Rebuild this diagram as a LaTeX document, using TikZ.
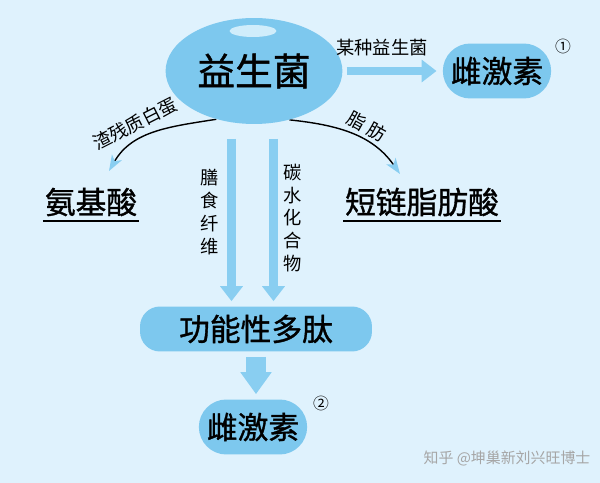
\documentclass[tikz,border=0pt]{standalone}
\usepackage{fontspec}
\setmainfont{Noto Sans CJK SC}
\newfontfamily\heavycjk[FakeBold=1.1]{Noto Sans CJK SC}
\usepackage{tikz}
\usetikzlibrary{positioning,backgrounds,arrows.meta,shapes.geometric,shapes.misc}
\pgfdeclarelayer{background}
\pgfsetlayers{background,main}
\usepackage{xcolor}
\definecolor{pagebg}{RGB}{223,242,253}
\definecolor{bubbleblue}{RGB}{125,200,238}
\definecolor{shaftblue}{RGB}{137,206,241}
\definecolor{glintwhite}{RGB}{208,237,251}
\newcommand{\bigcjk}{\heavycjk\fontsize{21.5}{21.5}\selectfont}
\newcommand{\midcjk}{\heavycjk\fontsize{17.5}{17.5}\selectfont}
\newcommand{\smallcjk}{\fontsize{10.4}{13}\selectfont}

\begin{document}
\begin{tikzpicture}[x=0.02cm, y=0.02cm,
  every node/.style={font=\smallcjk},
  bubble/.style={ellipse, fill=bubbleblue, minimum width=3.06cm,
    minimum height=2.12cm, font=\bigcjk},
  glint/.style={ellipse, fill=glintwhite, minimum width=0.94cm,
    minimum height=0.24cm, inner sep=0pt},
  pill/.style={rounded rectangle, fill=bubbleblue, minimum width=2.4cm,
    minimum height=1.1cm, font=\midcjk},
  bar/.style={rectangle, rounded corners=0.4cm, fill=bubbleblue,
    minimum width=4.64cm, minimum height=0.9cm, font=\midcjk},
  product/.style={font=\midcjk, inner sep=1pt},
  tag/.style={font=\smallcjk, inner sep=1pt},
  vtag/.style={tag, align=center},
  circnum/.style={font=\fontsize{9}{9}\selectfont, inner sep=0pt},
  fat/.style={shaftblue, line width=5.1pt,
    -{Triangle[length=8.5pt, width=12.5pt]}},
  fatter/.style={shaftblue, line width=11.3pt,
    -{Triangle[length=12.5pt, width=17pt]}},
  curvy/.style={black, line width=0.8pt,
    -{Stealth[length=9pt, width=6.5pt, inset=2.5pt, color=shaftblue]}},
  watermark/.style={font=\fontsize{8.5}{8.5}\selectfont, text=gray!70},
]

\node[bubble]  at (254,-71)  (probio)  {益生菌};
\node[glint]   at (253,-31)  (probioglint) {};
\node[pill]    at (497,-71)  (hormoneA) {雌激素};
\node[circnum] at (563,-46)  (numA)     {①};
\node[tag]     at (382,-48)  (strain)   {某种益生菌};

\node[product] at (91,-202)  (amino)    {氨基酸};
\node[product] at (422,-202) (scfa)     {短链脂肪酸};
\node[tag, rotate=27]  at (135,-124) (protein) {渣残质白蛋};
\node[tag, rotate=-29] at (367,-126) (fat)     {脂 肪};

\coordinate (fibertop) at (231.5,-139);
\coordinate (carbtop)  at (273.5,-139);
\coordinate (aminotip) at (109,-171);
\coordinate (scfatip)  at (400,-174);
\node[vtag] at (210,-212) (fiber) {膳\\食\\纤\\维};
\node[vtag] at (293,-218) (carb)  {碳\\水\\化\\合\\物};

\node[bar]     at (256,-329) (peptide)  {功能性多肽};
\node[pill]    at (253,-427) (hormoneB) {雌激素};
\node[circnum] at (321,-403) (numB)     {②};

\node[watermark] at (507,-458) (credit) {知乎 @坤巢新刘兴旺博士};

\begin{pgfonlayer}{background}
\fill[pagebg] (0,0) rectangle (600,-483);
\draw[fat, shorten <=0.08cm, shorten >=0.12cm] (probio.east) -- (hormoneA.west);
\draw[curvy] (probio.232) to[out=189,in=60] (aminotip);
\draw[curvy] (probio.306) to[out=-6,in=125] (scfatip);
\draw[fat, shorten >=0.1cm] (fibertop) -- (fibertop |- peptide.north);
\draw[fat, shorten >=0.1cm] (carbtop)  -- (carbtop |- peptide.north);
\draw[fatter, shorten <=0.1cm, shorten >=0.1cm] (peptide.south) -- (peptide.south |- hormoneB.north);
\draw[black, line width=0.9pt] ([yshift=-1.5pt]amino.south west) -- ([yshift=-1.5pt]amino.south east);
\draw[black, line width=0.9pt] ([yshift=-1.5pt]scfa.south west) -- ([yshift=-1.5pt]scfa.south east);
\end{pgfonlayer}
\end{tikzpicture}
\end{document}
